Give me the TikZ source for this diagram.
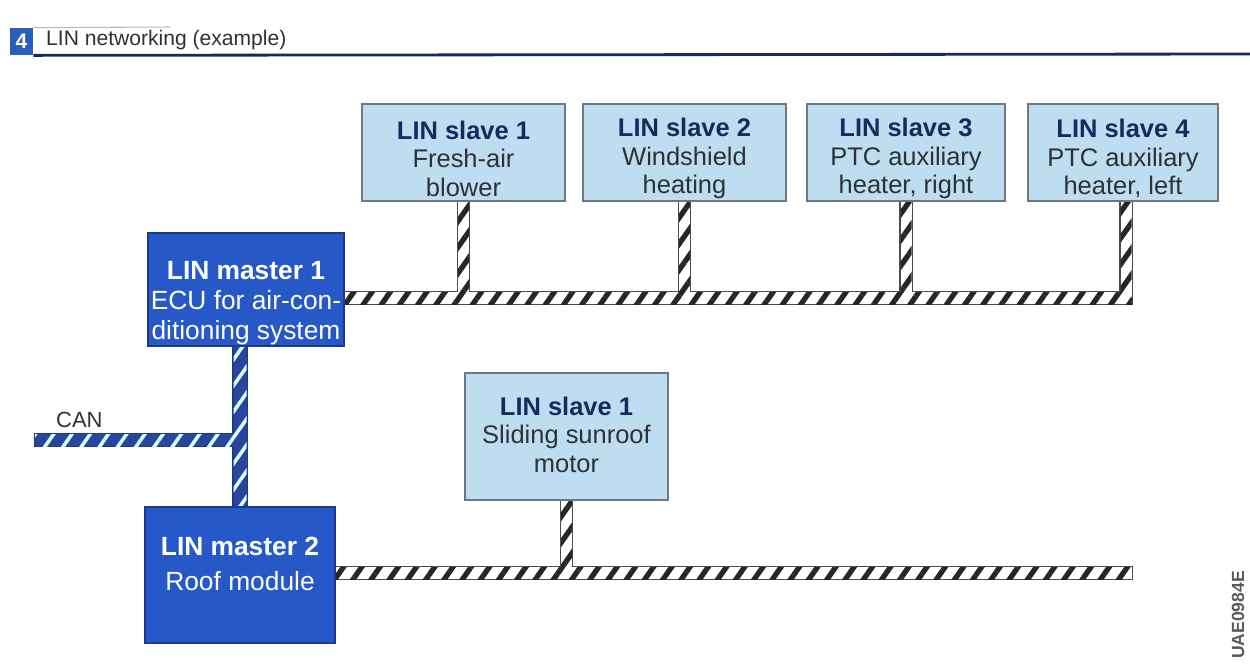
\documentclass[tikz,border=0pt]{standalone}
\usepackage{fontspec}
\setmainfont{Liberation Sans}
\usetikzlibrary{patterns.meta,backgrounds,calc}
\definecolor{mblue}{RGB}{38,88,200}
\definecolor{mborder}{RGB}{28,58,140}
\definecolor{sfill}{RGB}{190,221,241}
\definecolor{sborder}{RGB}{110,120,130}
\definecolor{navy}{RGB}{25,40,95}
\definecolor{txt}{RGB}{45,50,55}
\definecolor{hblue}{RGB}{40,95,190}
\definecolor{canblue}{RGB}{40,70,160}
\newcommand\linbuspaths[1]{%
  \path[#1] ($(m1.east|-b1r)+(0,-6)$) rectangle ($(b1r)+(0,6)$);
  \path[#1] ($(s1.south)+(-5.5,0)$) rectangle ($(s1.south|-b1r)+(5.5,0)$);
  \path[#1] ($(s2.south)+(-5.5,0)$) rectangle ($(s2.south|-b1r)+(5.5,0)$);
  \path[#1] ($(s3.south)+(-5.5,0)$) rectangle ($(s3.south|-b1r)+(5.5,0)$);
  \path[#1] ($(s4.south)+(-2.5,0)$) rectangle ($(s4.south|-b1r)+(8.5,0)$);
  \path[#1] ($(m2.east|-b2r)+(0,-6)$) rectangle ($(b2r)+(0,6)$);
  \path[#1] ($(s5.south)+(-5.5,0)$) rectangle ($(s5.south|-b2r)+(5.5,0)$);
}
\newcommand\canbuspaths[1]{%
  \path[#1] ($(m2.north)+(-6.5,0)$) rectangle ($(m2.north|-m1.south)+(6.5,0)$);
  \path[#1] ($(canl)+(0,-6)$) rectangle ($(m2.north|-canl)+(0,6)$);
}
\begin{document}
\begin{tikzpicture}[x=0.02cm,y=-0.02cm,
  boxfont/.style={font=\fontsize{15}{17}\selectfont},
  masterbox/.style={draw=mborder, line width=0.8pt, fill=mblue, inner sep=0pt},
  mastertext/.style={boxfont, text=white, align=center, inner sep=0pt},
  slave/.style={draw=sborder, line width=0.8pt, fill=sfill, inner sep=0pt, minimum height=1.94cm},
  slavetext/.style={font=\fontsize{14.5}{16.2}\selectfont, text=txt, align=center, inner sep=0pt},
  busout/.style={draw=gray!60!black, line width=1.4pt},
  busin/.style={preaction={fill=white}, pattern={Lines[angle=55,distance=8.5pt,line width=3pt]}, pattern color=black!85},
  canout/.style={draw=canblue!80!black, line width=1.4pt},
  canin/.style={preaction={fill=canblue}, pattern={Lines[angle=55,distance=8.5pt,line width=2pt]}, pattern color=white!85!cyan}
]
\useasboundingbox (0,0) rectangle (1250,667);

% header
\node[fill=hblue, minimum width=0.46cm, minimum height=0.54cm, inner sep=0pt, text=white,
      font=\bfseries\fontsize{12}{14}\selectfont] (num) at (21.5,41.5) {4};
\node[anchor=west, font=\fontsize{12}{14}\selectfont, text=txt] (title) at (40,40) {LIN networking (example)};
\draw[gray!55, line width=0.6pt] (num.north east) -- (170,27);
\draw[navy, line width=1.6pt] (num.south east) -- (1250,54);

% slaves
\node[slave, minimum width=4.06cm] (s1) at (463.5,152.5) {};
\node[slavetext] (s1t) at ($(s1.center)+(0,6)$)
  {\textcolor{navy}{\bfseries LIN slave 1}\\Fresh-air\\blower};
\node[slave, minimum width=4.06cm] (s2) at (684.5,152.5) {};
\node[slavetext] (s2t) at ($(s2.center)+(0,6)$)
  {\textcolor{navy}{\bfseries LIN slave 2}\\Windshield\\heating};
\node[slave, minimum width=3.96cm] (s3) at (906,152.5) {};
\node[slavetext] (s3t) at ($(s3.center)+(0,6)$)
  {\textcolor{navy}{\bfseries LIN slave 3}\\PTC auxiliary\\heater, right};
\node[slave, minimum width=3.80cm] (s4) at (1123,152.5) {};
\node[slavetext] (s4t) at ($(s4.center)+(0,6)$)
  {\textcolor{navy}{\bfseries LIN slave 4}\\PTC auxiliary\\heater, left};
\node[slave, minimum width=4.06cm, minimum height=2.54cm] (s5) at (566.5,436.5) {};
\node[slavetext] (s5t) at ($(s5.center)+(0,-2)$)
  {\textcolor{navy}{\bfseries LIN slave 1}\\Sliding sunroof\\motor};

% masters
\node[masterbox, minimum width=3.92cm, minimum height=2.26cm] (m1) at (246,289.5) {};
\node[mastertext] (m1t) at ($(m1.center)+(0,14)$)
  {{\bfseries LIN master 1}\\ECU for air-con-\\ditioning system};
\node[masterbox, minimum width=3.80cm, minimum height=2.72cm] (m2) at (240,575) {};
\node[mastertext, font=\fontsize{15}{20}\selectfont] (m2t) at ($(m2.center)+(0,-11)$)
  {{\bfseries LIN master 2}\\Roof module};

% bus end points
\coordinate (b1r) at (1132,298);
\coordinate (b2r) at (1132,573);
\coordinate (canl) at (35,440);

\node[anchor=base west, font=\fontsize{12.5}{14}\selectfont, text=txt] (canlbl) at (50,427) {CAN};

\begin{scope}[on background layer]
  \fill[white] (0,0) rectangle (1250,667);
  \linbuspaths{busout}
  \linbuspaths{busin}
  \canbuspaths{canout}
  \canbuspaths{canin}
\end{scope}

\node[rotate=90, font=\bfseries\fontsize{10}{12}\selectfont, text=txt!80] (code) at (1238,615) {UAE0984E};
\end{tikzpicture}
\end{document}
